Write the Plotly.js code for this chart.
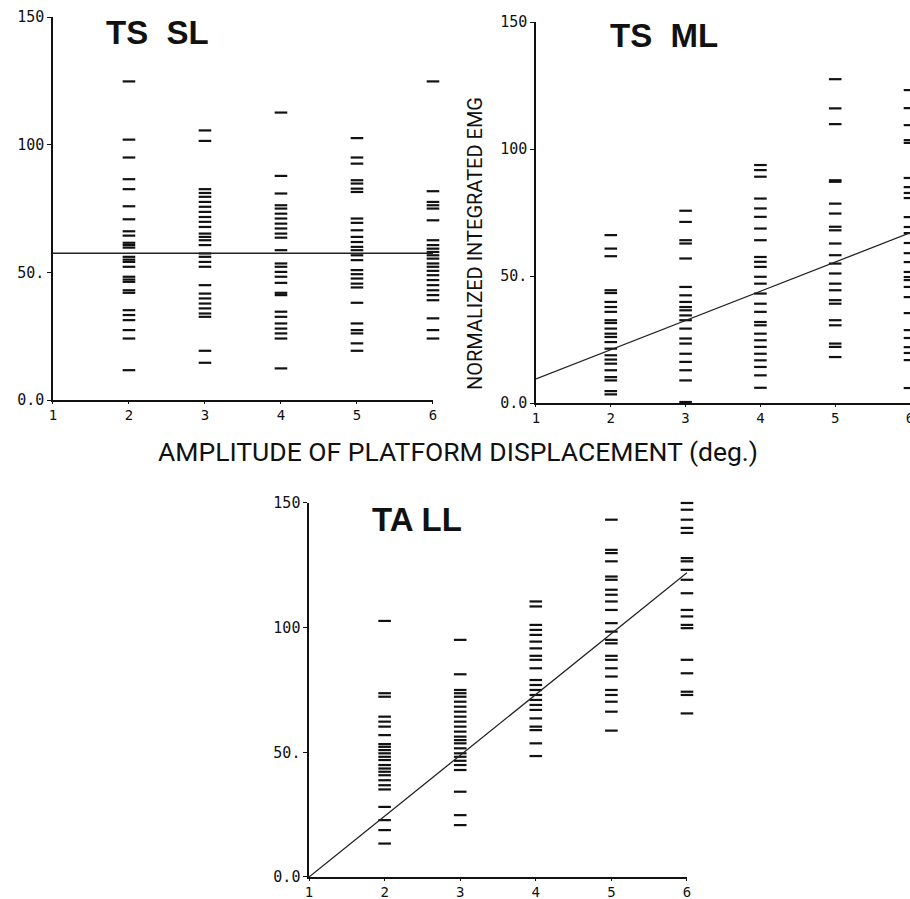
<!DOCTYPE html>
<html>
<head>
<meta charset="utf-8">
<script src="https://cdn.plot.ly/plotly-3.0.1.min.js"></script>
<style>html,body{margin:0;padding:0;background:#fff;}#chart{width:910px;height:899px;}</style>
</head>
<body>
<div id="chart"></div>
<script>
// Amplitude of platform displacement (deg.)
const amplitudes = [2, 3, 4, 5, 6];
const xTickVals = [1, 2, 3, 4, 5, 6];
const xTickText = ["1", "2", "3", "4", "5", "6"];
const yTickVals = [0, 50, 100, 150];
const yTickText = ["0.0", "50.", "100", "150"];

// TS SL – normalized integrated EMG per amplitude
const slY2 = [124.8,102,95,86.5,82.6,75.9,70.8,66.1,64.4,61.6,60.7,59.7,56.1,55,54.1,52.2,48.3,47.2,46.3,43,42,35.2,33.3,31.3,27.4,24.1,11.7];
const slY3 = [105.6,101.5,82.6,81.1,79.6,77.6,75.7,73.7,71.7,69.8,67.8,65.2,63.9,62.6,60.7,57.4,56.1,54.1,52.2,45,41.7,39.8,37.8,35.9,33.9,32.6,19.3,14.6];
const slY4 = [112.6,87.8,80.9,76.3,75,73,71.1,69.1,67.2,65.2,63.6,58.7,53.5,52.2,50.2,48.3,45.9,42,41.1,34.6,32.6,30,28,26.1,24.1,12.4];
const slY5 = [102.6,95,92.6,86.1,84.8,82.8,81.5,71.1,69.4,66.5,63.9,61.9,60,58.7,56.7,54.8,50.9,49.3,47.6,45.6,44.1,38.1,30,27.4,26.1,22.2,19.3];
const slY6 = [124.8,81.8,77.6,76.3,75,70.4,62.6,60.7,59.3,58,56.7,55.4,53.5,52.2,50.6,48.9,47,45,43,41.1,39.1,32,27.4,24.1];

// TS ML
const mlY2 = [66.1,60.8,57.8,44.4,43.3,39.8,37.8,35.9,32.6,31.5,29.3,27.3,26,24,21.4,18.8,17.1,15.5,12.9,10.2,8.9,4.7,3.4];
const mlY3 = [75.7,71.3,64.1,62.8,56.9,45.7,42.4,39.8,37.8,36.5,34.5,32.6,29.3,25.4,23.4,19.4,16.2,12.9,8.9,0.4];
const mlY4 = [93.7,91.7,89.1,80.5,76.6,73.3,68.7,64.1,57.5,55.6,53.6,49.7,47,43.1,39.1,35.9,31.9,30.6,27.3,24.7,22.1,19.4,16.8,14.2,10.9,6];
const mlY5 = [127.5,116,109.8,87.7,87.1,78.5,74.6,69.4,68,62.8,58.2,54.9,51,47,44.4,40.5,39.1,32.6,30.6,23.4,22.1,18.1];
const mlY6 = [123.2,116.1,109.4,103.5,102.4,88.6,85,82.7,80.7,73.2,69.3,66.9,63,59,55.5,51.6,49.6,48.4,45.7,41.7,35.4,28.7,25.6,22,19.7,16.9,5.9];

// TA LL
const llY2 = [102.7,73.7,72.3,64.3,62.3,60.3,56.9,53.3,52.2,50.9,49.6,48.2,46.9,44.9,43.5,42.2,40.8,38.8,36.8,35.1,28.1,22.8,18.8,13.4];
const llY3 = [95.1,81.3,75,73.7,72.3,70.3,68.3,66.3,64.3,62.3,60.3,58.3,56.3,54.9,53.6,51.6,49.6,48.2,46.6,44.9,42.9,34.2,24.8,20.8];
const llY4 = [110.5,108.5,101.1,99.1,97.1,94.4,91.7,88.7,87.1,83.7,79,77,75,73,71,69,67,63.6,60.3,58.9,53.6,48.5];
const llY5 = [143.3,131.2,129.9,126.6,120.5,119.2,115.2,113.2,110.5,107.1,101.8,98.4,95.1,93.7,88.7,87.1,83.7,80.4,75,73,70.3,66.3,58.7];
const llY6 = [150,147.3,143.3,140,138,127.9,126.6,123.2,119.2,113.8,107.1,104.5,101.1,99.8,87.1,81.7,74.3,73,65.6];

// Regression lines (value at amplitude 1 and 6)
const fitX = [1, 6];
const fitSL = [57.5, 57.5];
const fitML = [9.5, 67];
const fitLL = [0, 122];

const panelTitles = ["TS&nbsp; SL", "TS&nbsp; ML", "TA LL"];
const yAxisTitle = "NORMALIZED INTEGRATED EMG";
const xAxisTitle = "AMPLITUDE OF PLATFORM DISPLACEMENT (deg.)";

function columnTrace(cols, xa, ya) {
  const xs = [], ys = [];
  cols.forEach((arr, i) => { arr.forEach(v => { xs.push(amplitudes[i]); ys.push(v); }); });
  return {
    x: xs, y: ys, xaxis: xa, yaxis: ya, type: 'scatter', mode: 'markers',
    cliponaxis: false, hoverinfo: 'skip',
    marker: { symbol: 'line-ew', size: 9, color: '#111', line: { color: '#111', width: 2.2 } }
  };
}
function fitTrace(y, xa, ya) {
  return { x: fitX, y: y, xaxis: xa, yaxis: ya, type: 'scatter', mode: 'lines',
    line: { color: '#222', width: 1.3 }, hoverinfo: 'skip' };
}

const traces = [
  columnTrace([slY2, slY3, slY4, slY5, slY6], 'x', 'y'),
  fitTrace(fitSL, 'x', 'y'),
  columnTrace([mlY2, mlY3, mlY4, mlY5, mlY6], 'x2', 'y2'),
  fitTrace(fitML, 'x2', 'y2'),
  columnTrace([llY2, llY3, llY4, llY5, llY6], 'x3', 'y3'),
  fitTrace(fitLL, 'x3', 'y3')
];

const yTickFont = { family: 'DejaVu Sans Mono, monospace', size: 15, color: '#111' };
const xTickFont = { family: 'DejaVu Sans Mono, monospace', size: 14, color: '#111' };
function xAx(domain, anchor) {
  return { domain: domain, anchor: anchor, range: [1, 6], tickvals: xTickVals, ticktext: xTickText,
    showline: true, linecolor: '#111', linewidth: 1.6, ticks: 'outside', ticklen: 2, tickcolor: '#111',
    showgrid: false, zeroline: false, tickfont: xTickFont, fixedrange: true, ticklabeloverflow: 'allow' };
}
function yAx(domain, anchor) {
  return { domain: domain, anchor: anchor, range: [0, 150], tickvals: yTickVals, ticktext: yTickText,
    showline: true, linecolor: '#111', linewidth: 1.6, ticks: 'outside', ticklen: 4, tickcolor: '#111',
    showgrid: false, zeroline: false, tickfont: yTickFont, fixedrange: true, ticklabeloverflow: 'allow' };
}

const titleFont = { family: 'Liberation Sans, Arial, sans-serif', size: 33, color: '#111', weight: 'bold' };
const labelFont = { family: 'Roboto, DejaVu Sans, sans-serif', color: '#111' };

const layout = {
  width: 910, height: 899, autosize: false,
  margin: { l: 0, r: 0, t: 0, b: 0, pad: 0 },
  paper_bgcolor: '#fff', plot_bgcolor: '#fff',
  showlegend: false,
  xaxis: xAx([0.0582, 0.4758], 'y'),
  yaxis: yAx([0.555, 0.981], 'x'),
  xaxis2: xAx([0.589, 1.0], 'y2'),
  yaxis2: yAx([0.5517, 0.9755], 'x2'),
  xaxis3: xAx([0.3396, 0.7549], 'y3'),
  yaxis3: yAx([0.0245, 0.4405], 'x3'),
  annotations: [
    { text: '<b>' + panelTitles[0] + '</b>', xref: 'paper', yref: 'paper', x: 157/910, y: 1 - 33/899, showarrow: false, font: titleFont, xanchor: 'center', yanchor: 'middle' },
    { text: '<b>' + panelTitles[1] + '</b>', xref: 'paper', yref: 'paper', x: 664/910, y: 1 - 36/899, showarrow: false, font: titleFont, xanchor: 'center', yanchor: 'middle' },
    { text: '<b>' + panelTitles[2] + '</b>', xref: 'paper', yref: 'paper', x: 417/910, y: 1 - 519/899, showarrow: false, font: titleFont, xanchor: 'center', yanchor: 'middle' },
    { text: yAxisTitle, xref: 'paper', yref: 'paper', x: 475/910, y: 1 - 244/899, showarrow: false, textangle: -90, font: Object.assign({ size: 20 }, labelFont), xanchor: 'center', yanchor: 'middle' },
    { text: xAxisTitle, xref: 'paper', yref: 'paper', x: 458/910, y: 1 - 452/899, showarrow: false, font: Object.assign({ size: 26.5 }, labelFont), xanchor: 'center', yanchor: 'middle' }
  ]
};

Plotly.newPlot('chart', traces, layout, { staticPlot: true, displayModeBar: false });
</script>
</body>
</html>
